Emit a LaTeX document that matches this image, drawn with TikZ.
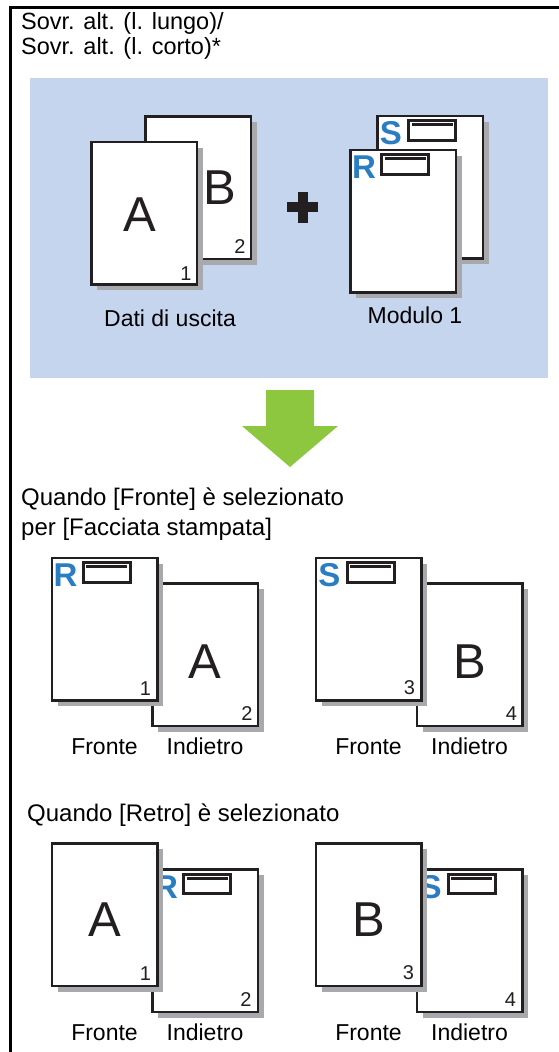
\documentclass[tikz,border=0pt]{standalone}
\usepackage{fontspec}
\setmainfont{Liberation Sans}
\usetikzlibrary{positioning,shadows}

\definecolor{rzFrame}{HTML}{000000}
\definecolor{rzBlueFill}{HTML}{C6D5EE}
\definecolor{rzMarkBlue}{HTML}{2A7DC0}
\definecolor{rzGreen}{HTML}{8DC63F}
\definecolor{rzShadow}{HTML}{A7A9AC}
\definecolor{rzInk}{HTML}{231F20}

\begin{document}
\begin{tikzpicture}[
  x=1pt, y=-1pt,
  txt/.style={font=\fontsize{23}{29}\selectfont, inner sep=0pt, text=black},
  heading/.style={txt, font=\fontsize{24}{30}\selectfont, anchor=north west, align=left},
  caption/.style={txt},
  sheet/.style={draw=rzInk, fill=white, line width=2.5pt,
                minimum width=105.5pt, minimum height=142.5pt, inner sep=0pt,
                drop shadow={shadow xshift=6pt, shadow yshift=-6pt,
                             fill=rzShadow, opacity=1}},
  bigletter/.style={font=\fontsize{49}{49}\selectfont, inner sep=0pt, text=rzInk},
  pagenum/.style={font=\fontsize{20}{20}\selectfont, inner sep=0pt, text=rzInk},
  markletter/.style={font=\fontsize{33}{33}\selectfont\bfseries, inner sep=0pt,
                     text=rzMarkBlue},
  slot/.style={draw=rzInk, line width=3pt, minimum width=47pt,
               minimum height=19.7pt, inner sep=0pt},
  bar/.style={draw=rzInk, line width=3pt}
]
  \useasboundingbox (0,0) rectangle (559,1052);

  % ---- frame and input panel ----
  \draw[rzFrame, line width=3.3pt] (10.7,1052) -- (10.7,7.4) -- (559,7.4);
  \fill[rzBlueFill] (30,78) rectangle (548,378);

  \node[heading, font=\fontsize{23.5}{25}\selectfont] (title) at (21,12)
        {Sovr. alt. (l. lungo)/\\Sovr. alt. (l. corto)*};

  % ---- output data ----
  \node[sheet] (outB) at (198,187.5) {};
  \node[bigletter] at ([xshift=22pt]outB.center) {B};
  \node[pagenum] at ([xshift=-12pt,yshift=13pt]outB.south east) {2};
  \node[sheet] (outA) at (144,213) {};
  \node[bigletter] at ([xshift=-4pt,yshift=-2pt]outA.center) {A};
  \node[pagenum] at ([xshift=-12pt,yshift=12pt]outA.south east) {1};
  \node[caption] (lblDati) at (170,318) {Dati di uscita};

  % ---- plus ----
  \fill[rzInk] (287,202) rectangle (318,212);
  \fill[rzInk] (297.5,192) rectangle (307.5,223);

  % ---- form 1 ----
  \node[sheet] (formS) at (430,187) {};
  \node[markletter] at ([xshift=15pt,yshift=-19pt]formS.north west) {S};
  \node[slot] (slotFS) at ([xshift=56pt,yshift=-16pt]formS.north west) {};
  \draw[bar] ([xshift=4.5pt,yshift=-5.5pt]slotFS.north west)
          -- ([xshift=-4.5pt,yshift=-5.5pt]slotFS.north east);
  \node[sheet] (formR) at (403,221) {};
  \node[markletter] at ([xshift=15pt,yshift=-19pt]formR.north west) {R};
  \node[slot] (slotFR) at ([xshift=56pt,yshift=-16pt]formR.north west) {};
  \draw[bar] ([xshift=4.5pt,yshift=-5.5pt]slotFR.north west)
          -- ([xshift=-4.5pt,yshift=-5.5pt]slotFR.north east);
  \node[caption] (lblModulo) at (415,315) {Modulo 1};

  % ---- result arrow ----
  \fill[rzGreen] (266,390) -- (314,390) -- (314,426) -- (338,426)
        -- (290,467) -- (242,426) -- (266,426) -- cycle;

  % ---- printed side: front ----
  \node[heading] (qFronte) at (21,488)
        {Quando [Fronte] è selezionato\\per [Facciata stampata]};

  \node[sheet] (frBackA) at (205,654.5) {};
  \node[bigletter] at ([yshift=-7pt]frBackA.center) {A};
  \node[pagenum] at ([xshift=-12pt,yshift=13pt]frBackA.south east) {2};
  \node[sheet] (frFrontR) at (104.5,629) {};
  \node[markletter] at ([xshift=15pt,yshift=-19pt]frFrontR.north west) {R};
  \node[slot] (slotR1) at ([xshift=56pt,yshift=-16pt]frFrontR.north west) {};
  \draw[bar] ([xshift=4.5pt,yshift=-5.5pt]slotR1.north west)
          -- ([xshift=-4.5pt,yshift=-5.5pt]slotR1.north east);
  \node[pagenum] at ([xshift=-13pt,yshift=13pt]frFrontR.south east) {1};
  \node[caption, below=11pt of frBackA] (lblInd1) {Indietro};
  \node[caption] (lblFr1) at (frFrontR |- lblInd1) {Fronte};

  \node[sheet] (frBackB) at (469.5,654.5) {};
  \node[bigletter] at ([yshift=-7pt]frBackB.center) {B};
  \node[pagenum] at ([xshift=-12pt,yshift=13pt]frBackB.south east) {4};
  \node[sheet] (frFrontS) at (368.5,629) {};
  \node[markletter] at ([xshift=15pt,yshift=-19pt]frFrontS.north west) {S};
  \node[slot] (slotS1) at ([xshift=56pt,yshift=-16pt]frFrontS.north west) {};
  \draw[bar] ([xshift=4.5pt,yshift=-5.5pt]slotS1.north west)
          -- ([xshift=-4.5pt,yshift=-5.5pt]slotS1.north east);
  \node[pagenum] at ([xshift=-13pt,yshift=14pt]frFrontS.south east) {3};
  \node[caption, below=11pt of frBackB] (lblInd2) {Indietro};
  \node[caption] (lblFr2) at (frFrontS |- lblInd2) {Fronte};

  % ---- printed side: back ----
  \node[heading] (qRetro) at (27,804) {Quando [Retro] è selezionato};

  \node[sheet] (reBackR) at (205,940.5) {};
  \node[markletter] at ([xshift=15pt,yshift=-19pt]reBackR.north west) {R};
  \node[slot] (slotR2) at ([xshift=56pt,yshift=-16pt]reBackR.north west) {};
  \draw[bar] ([xshift=4.5pt,yshift=-5.5pt]slotR2.north west)
          -- ([xshift=-4.5pt,yshift=-5.5pt]slotR2.north east);
  \node[pagenum] at ([xshift=-13pt,yshift=13pt]reBackR.south east) {2};
  \node[sheet] (reFrontA) at (104.5,914.5) {};
  \node[bigletter] at ([yshift=-5pt]reFrontA.center) {A};
  \node[pagenum] at ([xshift=-13pt,yshift=13pt]reFrontA.south east) {1};
  \node[caption, below=11pt of reBackR] (lblInd3) {Indietro};
  \node[caption] (lblFr3) at (reFrontA |- lblInd3) {Fronte};

  \node[sheet] (reBackS) at (469.5,940.5) {};
  \node[markletter] at ([xshift=15pt,yshift=-19pt]reBackS.north west) {S};
  \node[slot] (slotS2) at ([xshift=56pt,yshift=-16pt]reBackS.north west) {};
  \draw[bar] ([xshift=4.5pt,yshift=-5.5pt]slotS2.north west)
          -- ([xshift=-4.5pt,yshift=-5.5pt]slotS2.north east);
  \node[pagenum] at ([xshift=-13pt,yshift=13pt]reBackS.south east) {4};
  \node[sheet] (reFrontB) at (368.5,914.5) {};
  \node[bigletter] at ([yshift=-5pt]reFrontB.center) {B};
  \node[pagenum] at ([xshift=-14pt,yshift=14pt]reFrontB.south east) {3};
  \node[caption, below=11pt of reBackS] (lblInd4) {Indietro};
  \node[caption] (lblFr4) at (reFrontB |- lblInd4) {Fronte};
\end{tikzpicture}
\end{document}
